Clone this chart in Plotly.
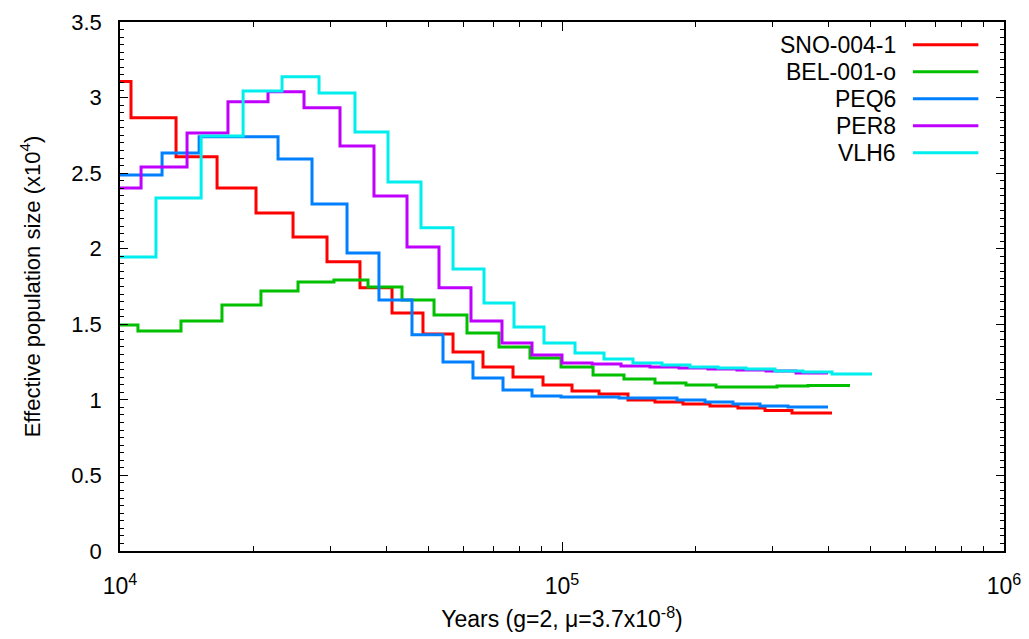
import plotly.graph_objects as go

# ---------------- data (years, Ne in units of 10^4) ----------------
names = ["SNO-004-1", "BEL-001-o", "PEQ6", "PER8", "VLH6"]
colors = ["#ff0000", "#00c000", "#0080ff", "#c000ff", "#00eeee"]

sno_t = [10000, 10590, 13390, 16580, 20310, 24630, 29400, 34910, 41250, 48470,
         56680, 66260, 77470, 90580, 105350, 121280, 141020, 162340, 187800,
         216190, 250110, 287940, 331410, 408180]
sno_ne = [3.106, 2.867, 2.608, 2.402, 2.237, 2.078, 1.913, 1.741, 1.575, 1.436,
          1.317, 1.218, 1.152, 1.099, 1.059, 1.039, 0.999, 0.986, 0.973,
          0.960, 0.946, 0.929, 0.913]

bel_t = [10000, 10980, 13740, 17010, 20840, 25280, 30480, 36400, 43450, 51340,
         60960, 72020, 84640, 99480, 117550, 138110, 162340, 190740, 223070,
         260790, 306500, 360220, 448310]
bel_ne = [1.496, 1.456, 1.522, 1.628, 1.721, 1.780, 1.793, 1.747, 1.661, 1.562,
          1.443, 1.350, 1.277, 1.218, 1.165, 1.138, 1.112, 1.099, 1.085,
          1.085, 1.092, 1.095]

peq_t = [10000, 12450, 15100, 22780, 27190, 32630, 38540, 45770, 53800, 62890,
         73540, 85530, 99480, 115730, 134580, 156520, 182030, 210640, 243690,
         280500, 324580, 399780]
peq_ne = [2.488, 2.634, 2.740, 2.594, 2.296, 1.972, 1.661, 1.430, 1.251, 1.145,
          1.066, 1.026, 1.019, 1.019, 1.013, 1.013, 0.999, 0.986, 0.973,
          0.960, 0.953]

per_t = [10000, 11160, 14180, 17550, 21620, 26080, 31460, 37550, 44600, 52690,
         62240, 73150, 85530, 100000, 116940, 135990, 158160, 183930, 213960,
         248820, 289450, 338400, 399780]
per_ne = [2.402, 2.541, 2.766, 2.972, 3.038, 2.932, 2.680, 2.349, 2.012, 1.741,
          1.522, 1.377, 1.297, 1.244, 1.238, 1.224, 1.218, 1.211, 1.204,
          1.198, 1.191, 1.178]

vlh_t = [10000, 12060, 15260, 18990, 23260, 28200, 34010, 40400, 47970, 56680,
         66610, 77870, 91050, 107010, 124460, 144740, 168360, 194800, 225410,
         260790, 303310, 350960, 408180, 502760]
vlh_ne = [1.946, 2.336, 2.746, 3.044, 3.137, 3.031, 2.773, 2.442, 2.138, 1.866,
          1.641, 1.482, 1.377, 1.310, 1.271, 1.244, 1.231, 1.218, 1.211,
          1.204, 1.191, 1.185, 1.171]

series_t = [sno_t, bel_t, peq_t, per_t, vlh_t]
series_ne = [sno_ne, bel_ne, peq_ne, per_ne, vlh_ne]

x_tickvals = [1e4, 1e5, 1e6]
x_ticktext = ["10<sup>4</sup>", "10<sup>5</sup>", "10<sup>6</sup>"]
x_minor = [m * 10 ** e for e in (4, 5) for m in range(2, 10)]
y_ticks = [0, 0.5, 1, 1.5, 2, 2.5, 3, 3.5]

# ---------------- figure ----------------
FONT = "Liberation Sans, Arial, sans-serif"
fig = go.Figure()
for name, col, t, ne in zip(names, colors, series_t, series_ne):
    fig.add_trace(go.Scatter(
        x=t, y=ne + [ne[-1]], mode="lines", name=name,
        line=dict(color=col, width=3, shape="hv"), showlegend=False,
    ))

# gnuplot-style legend: right aligned text followed by a line sample
leg_top = 0.957
leg_step = 0.051
for i, (name, col) in enumerate(zip(names, colors)):
    yy = leg_top - i * leg_step
    fig.add_annotation(xref="paper", yref="paper", x=0.880, y=yy, text=name,
                       showarrow=False, xanchor="right", yanchor="middle",
                       font=dict(family=FONT, size=23, color="#000"))
    fig.add_shape(type="line", xref="paper", yref="paper", x0=0.897, x1=0.971,
                  y0=yy, y1=yy, line=dict(color=col, width=3))

# the page adds an 8px body margin, so the figure is sized to fit the window
fig.update_layout(
    width=1021, height=631,
    margin=dict(l=112, r=25, t=14, b=88),
    paper_bgcolor="white", plot_bgcolor="white",
    font=dict(family=FONT, size=22, color="#000"),
)
fig.update_xaxes(
    type="log", range=[4, 6], automargin=False,
    tickvals=x_tickvals, ticktext=x_ticktext,
    ticks="inside", ticklen=9, tickwidth=1.2, tickcolor="#000",
    minor=dict(tickvals=x_minor, ticks="inside", ticklen=5, tickwidth=1.2, tickcolor="#000"),
    showline=True, linecolor="#000", linewidth=1.5, mirror="allticks",
    showgrid=False, zeroline=False,
    tickfont=dict(size=23), ticklabelstandoff=14,
    title=dict(text="Years (g=2, \u03bc=3.7x10<sup>-8</sup>)", font=dict(size=23), standoff=13),
)
fig.update_yaxes(
    range=[0, 3.5], automargin=False,
    tickvals=y_ticks, ticktext=[f"{v:g}" for v in y_ticks],
    ticks="inside", ticklen=8, tickwidth=1.2, tickcolor="#000",
    minor=dict(dtick=0.05, ticks="inside", ticklen=4, tickwidth=1.2, tickcolor="#000"),
    showline=True, linecolor="#000", linewidth=1.5, mirror="allticks",
    showgrid=False, zeroline=False,
    tickfont=dict(size=22), ticklabelstandoff=12,
    title=dict(text="Effective population size (x10<sup>4</sup>)", font=dict(size=22), standoff=25),
)

fig.write_html("out.html")
